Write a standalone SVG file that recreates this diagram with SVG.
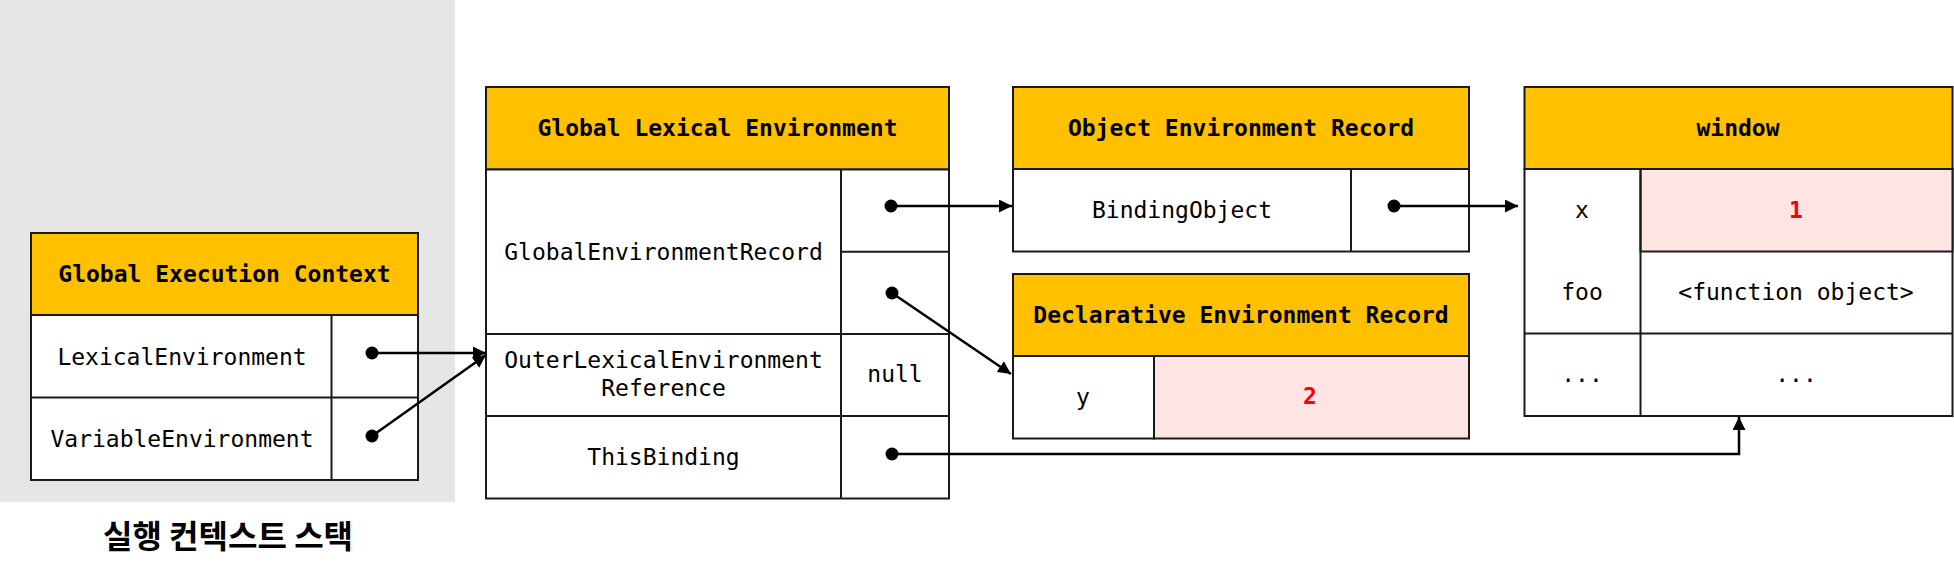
<svg xmlns="http://www.w3.org/2000/svg" width="1954" height="568" viewBox="0 0 1954 568">
<defs>
<marker id="arrow" markerUnits="userSpaceOnUse" markerWidth="13" markerHeight="13" viewBox="0 0 12 12" refX="12" refY="6" orient="auto">
<path d="M0,0 L12,6 L0,12 z" fill="#000"/>
</marker>
</defs>
<style>
.box{fill:#fff;stroke:#1a1a1a;stroke-width:2}
.hdr{fill:#ffc000;stroke:#1a1a1a;stroke-width:2}
.pink{fill:#ffe4e4;stroke:#1a1a1a;stroke-width:2}
.ln{stroke:#1a1a1a;stroke-width:2;fill:none}
.t{font-family:"DejaVu Sans Mono","Liberation Mono",monospace;font-size:23px;fill:#000;text-anchor:middle;dominant-baseline:central}
.h{font-weight:bold}
.red{fill:#ff0000;font-weight:bold}
.conn{stroke:#000;stroke-width:2.5;fill:none}
.dot{fill:#000}
.kr{font-family:"Noto Sans CJK KR","Noto Sans CJK SC",sans-serif;font-size:32px;font-weight:bold;fill:#000;text-anchor:middle;dominant-baseline:central}
</style>

<rect x="0" y="0" width="455" height="502" fill="#e6e6e6"/>

<g id="global-execution-context">
<rect class="hdr" x="31" y="233" width="387" height="82"/>
<rect class="box" x="31" y="315" width="387" height="165"/>
<line class="ln" x1="31" y1="397.5" x2="418" y2="397.5"/>
<line class="ln" x1="331.5" y1="315" x2="331.5" y2="480"/>
<text class="t h" x="224.5" y="274">Global Execution Context</text>
<text class="t" x="182" y="356.5">LexicalEnvironment</text>
<text class="t" x="182" y="438.5">VariableEnvironment</text>
</g>

<text id="stack-label" class="kr" x="228" y="534">실행 컨텍스트 스택</text>

<g id="global-lexical-environment">
<rect class="hdr" x="486" y="87" width="463" height="82.5"/>
<rect class="box" x="486" y="169.5" width="463" height="329"/>
<line class="ln" x1="486" y1="334" x2="949" y2="334"/>
<line class="ln" x1="486" y1="416" x2="949" y2="416"/>
<line class="ln" x1="841" y1="169.5" x2="841" y2="498.5"/>
<line class="ln" x1="841" y1="251.7" x2="949" y2="251.7"/>
<text class="t h" x="717.5" y="128">Global Lexical Environment</text>
<text class="t" x="663.5" y="251.7">GlobalEnvironmentRecord</text>
<text class="t" x="663.5" y="360">OuterLexicalEnvironment</text>
<text class="t" x="663.5" y="388">Reference</text>
<text class="t" x="895" y="374">null</text>
<text class="t" x="663.5" y="457">ThisBinding</text>
</g>

<g id="object-environment-record">
<rect class="hdr" x="1013" y="87" width="456" height="82"/>
<rect class="box" x="1013" y="169" width="456" height="82.5"/>
<line class="ln" x1="1351" y1="169" x2="1351" y2="251.5"/>
<text class="t h" x="1241" y="128">Object Environment Record</text>
<text class="t" x="1182" y="210">BindingObject</text>
</g>

<g id="declarative-environment-record">
<rect class="hdr" x="1013" y="274" width="456" height="82"/>
<rect class="box" x="1013" y="356" width="141" height="82.5"/>
<rect class="pink" x="1154" y="356" width="315" height="82.5"/>
<text class="t h" x="1241" y="315">Declarative Environment Record</text>
<text class="t" x="1083" y="397">y</text>
<text class="t red" x="1310" y="396">2</text>
</g>

<g id="window">
<rect class="hdr" x="1524.5" y="87" width="428" height="82"/>
<rect class="box" x="1524.5" y="169" width="428" height="247"/>
<rect class="pink" x="1640.5" y="169" width="312" height="82.5"/>
<line class="ln" x1="1524.5" y1="333.5" x2="1952.5" y2="333.5"/>
<line class="ln" x1="1640.5" y1="169" x2="1640.5" y2="416"/>
<text class="t h" x="1738" y="128">window</text>
<text class="t" x="1582" y="210">x</text>
<text class="t red" x="1796" y="210">1</text>
<text class="t" x="1582" y="292">foo</text>
<text class="t" x="1796" y="292">&lt;function object&gt;</text>
<text class="t" x="1582" y="374">...</text>
<text class="t" x="1796" y="374">...</text>
</g>

<g id="connectors">
<circle class="dot" cx="372" cy="353" r="6.5"/>
<line class="conn" x1="372" y1="353" x2="486" y2="353" marker-end="url(#arrow)"/>
<circle class="dot" cx="372" cy="436" r="6.5"/>
<line class="conn" x1="372" y1="436" x2="486" y2="355" marker-end="url(#arrow)"/>
<circle class="dot" cx="891" cy="206" r="6.5"/>
<line class="conn" x1="891" y1="206" x2="1012" y2="206" marker-end="url(#arrow)"/>
<circle class="dot" cx="892" cy="293" r="6.5"/>
<line class="conn" x1="892" y1="293" x2="1011" y2="374" marker-end="url(#arrow)"/>
<circle class="dot" cx="1394" cy="206" r="6.5"/>
<line class="conn" x1="1394" y1="206" x2="1518" y2="206" marker-end="url(#arrow)"/>
<circle class="dot" cx="892" cy="454" r="6.5"/>
<path class="conn" d="M892,454 H1739 V417" marker-end="url(#arrow)"/>
</g>
</svg>
